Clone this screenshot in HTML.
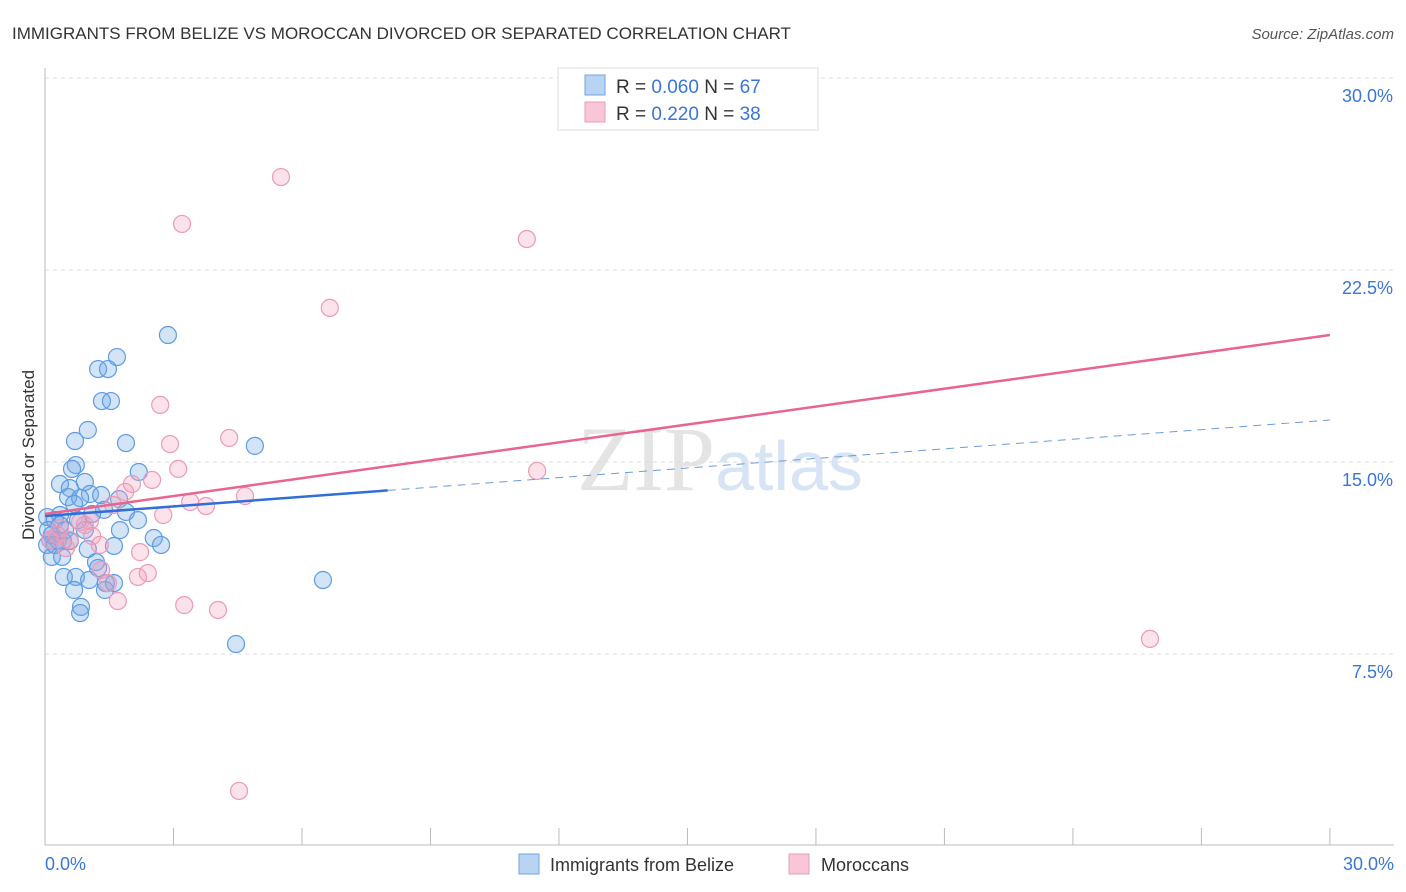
<!DOCTYPE html>
<html><head><meta charset="utf-8"><style>
body{margin:0;background:#fff;font-family:"Liberation Sans",sans-serif;}
svg{display:block}
</style></head><body>
<svg id="chart" width="1406" height="892">
<text x="12" y="39" font-size="17" fill="#333">IMMIGRANTS FROM BELIZE VS MOROCCAN DIVORCED OR SEPARATED CORRELATION CHART</text>
<text x="1394" y="39" font-size="15" fill="#555" font-style="italic" text-anchor="end">Source: ZipAtlas.com</text>
<text x="720" y="490" font-size="92" fill="#e4e4e4" text-anchor="middle" font-family="Liberation Serif,serif">ZIP<tspan fill="#d6e4f5" font-family="Liberation Sans,sans-serif" font-size="70">atlas</tspan></text>
<g id="grid"></g><g id="axes"></g><g id="pts"></g><g id="lines"></g>
<text transform="translate(34,455) rotate(-90)" font-size="17" fill="#333" text-anchor="middle">Divorced or Separated</text>
<g>
<rect x="558" y="68" width="260" height="62" fill="#fff" stroke="#ddd"/>
<rect x="585" y="75" width="20" height="20" fill="#b9d3f3" stroke="#6fa3e0"/>
<rect x="585" y="102" width="20" height="20" fill="#f9c6d6" stroke="#ea9cb6"/>
<text x="616" y="93" font-size="19" fill="#333">R = <tspan fill="#3a76d8">0.060</tspan>   N = <tspan fill="#3a76d8">67</tspan></text>
<text x="616" y="120" font-size="19" fill="#333">R =  <tspan fill="#3a76d8">0.220</tspan>   N = <tspan fill="#3a76d8">38</tspan></text>
</g>
<g>
<rect x="519" y="854" width="20" height="20" fill="#b9d3f3" stroke="#6fa3e0"/>
<text x="550" y="871" font-size="18" fill="#333">Immigrants from Belize</text>
<rect x="789" y="854" width="20" height="20" fill="#f9c6d6" stroke="#ea9cb6"/>
<text x="821" y="871" font-size="18" fill="#333">Moroccans</text>
</g>
</svg>
<script>
const blueX=[2.87,1.68,1.24,1.47,1.33,1.54,0.70,1.00,1.89,4.90,0.72,0.63,2.19,0.35,0.93,0.58,1.05,1.31,0.54,0.82,1.73,0.68,1.38,1.89,2.17,1.10,0.35,0.05,0.23,0.07,0.93,0.16,0.30,0.05,0.42,0.58,1.00,1.61,2.54,2.71,0.16,0.40,1.19,1.24,0.44,0.72,1.03,1.42,1.61,0.68,1.40,0.84,0.82,6.49,4.46,0.35,0.47,0.12,0.77,1.75,0.23];
const blueY=[19.96,19.10,18.63,18.63,17.38,17.38,15.82,16.25,15.74,15.63,14.88,14.73,14.61,14.14,14.22,13.98,13.75,13.71,13.63,13.59,13.55,13.36,13.13,13.05,12.73,12.97,12.93,12.85,12.73,12.34,12.34,12.15,11.95,11.76,11.91,11.91,11.60,11.72,12.03,11.76,11.29,11.29,11.09,10.86,10.51,10.51,10.39,10.27,10.27,10.00,10.00,9.34,9.10,10.39,7.89,12.54,12.34,11.95,12.73,12.34,11.76];
const pinkX=[12.65,5.51,3.20,11.25,6.65,2.69,4.30,2.92,3.11,11.49,2.50,2.03,1.87,4.67,3.39,3.76,1.59,2.76,1.05,0.82,0.35,0.93,1.10,1.28,0.12,0.28,0.49,2.22,1.31,2.40,2.17,1.47,3.25,4.04,1.70,4.53,25.80,0.58];
const pinkY=[28.32,26.13,24.30,23.71,21.02,17.23,15.94,15.70,14.73,14.65,14.30,14.14,13.83,13.67,13.44,13.28,13.32,12.93,12.70,12.66,12.42,12.54,12.11,11.76,11.95,12.15,11.64,11.48,10.78,10.66,10.51,10.27,9.41,9.22,9.57,2.15,8.09,11.95];
const blueTrend=[12.89,16.64], pinkTrend=[12.97,19.96];
const yTicks=[7.5,15,22.5,30];
const xTickLabels=["0.0%","30.0%"];
const NS="http://www.w3.org/2000/svg";
const X=v=>45+v*42.83, Y=v=>846-v*25.6;
function mk(tag,attrs,parent){const e=document.createElementNS(NS,tag);for(const k in attrs)e.setAttribute(k,attrs[k]);parent.appendChild(e);return e;}
const grid=document.getElementById('grid'),axes=document.getElementById('axes'),pts=document.getElementById('pts'),lines=document.getElementById('lines');
yTicks.forEach(t=>{
 const l=mk('line',{x1:45,x2:1394,y1:Y(t),y2:Y(t),stroke:'#ddd','stroke-dasharray':'4,4'},grid);
 
 
 const tx=mk('text',{x:1393,y:Y(t)+24,'font-size':18,fill:'#3a76d8','text-anchor':'end'},grid);
 tx.textContent=t.toFixed(1)+'%';
 
 
});
const ax=mk('line',{x1:45,x2:1394,y1:845,y2:845,stroke:'#bbb'},axes);


const ay=mk('line',{x1:45,x2:45,y1:68,y2:845,stroke:'#bbb'},axes);


for(let i=0;i<=10;i++){
 const t=mk('line',{x1:X(i*3),x2:X(i*3),y1:828,y2:845,stroke:'#bbb'},axes);
 
 
}
const xl0=mk('text',{x:45,y:870,'font-size':18,fill:'#3a76d8'},axes);xl0.textContent=xTickLabels[0];


const xl1=mk('text',{x:1394,y:870,'font-size':18,fill:'#3a76d8','text-anchor':'end'},axes);xl1.textContent=xTickLabels[1];


blueX.forEach((x,i)=>{
 const c=mk('circle',{cx:X(x),cy:Y(blueY[i]),r:8.5,fill:'rgba(110,165,230,0.3)',stroke:'#5d9ce3','stroke-width':1.2},pts);
 
 
});
pinkX.forEach((x,i)=>{
 const c=mk('circle',{cx:X(x),cy:Y(pinkY[i]),r:8.5,fill:'rgba(245,160,190,0.3)',stroke:'#ec9ab5','stroke-width':1.2},pts);
 
 
});
const bAt=x=>blueTrend[0]+(blueTrend[1]-blueTrend[0])*x/30;
const pAt=x=>pinkTrend[0]+(pinkTrend[1]-pinkTrend[0])*x/30;
const b1=mk('line',{x1:X(0),y1:Y(bAt(0)),x2:X(8),y2:Y(bAt(8)),stroke:'#2f6fd6','stroke-width':2.5},lines);


const b2=mk('line',{x1:X(8),y1:Y(bAt(8)),x2:X(30),y2:Y(bAt(30)),stroke:'#6a9be0','stroke-width':1,'stroke-dasharray':'8,6'},lines);


const p1=mk('line',{x1:X(0),y1:Y(pAt(0)),x2:X(30),y2:Y(pAt(30)),stroke:'#e8658f','stroke-width':2.5},lines);


</script>
</body></html>
